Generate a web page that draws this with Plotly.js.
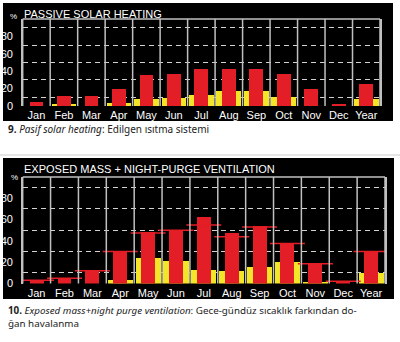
<!DOCTYPE html>
<html><head><meta charset="utf-8">
<script src="https://cdn.plot.ly/plotly-3.0.1.min.js"></script>
<style>html,body{margin:0;padding:0;background:#fff;}#chart{width:400px;height:342px;}</style>
</head><body><div id="chart"></div>
<script>
const months = ['Jan','Feb','Mar','Apr','May','Jun','Jul','Aug','Sep','Oct','Nov','Dec','Year'];
const yTicks = [0,20,40,60,80];
const gridDash = [10,30,50,70,90];
// Chart 9: passive solar heating (%)
const heatRed = [5,12,11,20,36,37,43,43,43,37,20,2,25];
const heatYellow = [0,2,0,4,8,9.5,13,17.5,17.5,10,0,0,7.5];
// Chart 10: exposed mass + night-purge ventilation (%)
const ventRed = [3,5,12,30,48,50,62,47.5,54,37.5,18,1,30];
const ventLine = [3,5,12,30,47.5,50,55,44,53,37.5,18.5,2,30];
const ventYellow = [0,0,0,3,24,21,12.5,11.7,15.7,20,1,0,9.5];

const RED = '#e41e26', YEL = '#f3e52a', GRID = '#c0c0c0', DASH = '#d2d2d2';
const W = 400, H = 342;
const px = v => v / W, py = v => 1 - v / H;
const tickFont = {family: 'Liberation Sans, Arial, sans-serif', size: 11, color: '#fff'};

const data = [
  {type:'bar', x: months, y: heatYellow, xaxis:'x', yaxis:'y', width:0.9, marker:{color:YEL}, hoverinfo:'none'},
  {type:'bar', x: months, y: heatRed, xaxis:'x', yaxis:'y', width:0.5, marker:{color:RED}, hoverinfo:'none'},
  {type:'bar', x: months, y: ventYellow, xaxis:'x2', yaxis:'y2', width:0.9, marker:{color:YEL}, hoverinfo:'none'},
  {type:'bar', x: months, y: ventRed, xaxis:'x2', yaxis:'y2', width:0.5, marker:{color:RED}, hoverinfo:'none'},
  {type:'scatter', mode:'markers', x: months, y: ventLine, xaxis:'x2', yaxis:'y2', hoverinfo:'none',
   marker:{symbol:'line-ew', size:25, color:RED, line:{width:1.5, color:RED}}}
];

function xax(domain, anchor){
  return {domain, anchor, type:'category', range:[-0.5,12.5], showgrid:false,
    ticks:'', tickangle:0, tickfont:tickFont, ticklabelstandoff:1, showline:false, zeroline:false, fixedrange:true};
}
function yax(domain, anchor){
  return {domain, anchor, range:[0,100], tickvals:yTicks, ticktext:yTicks.map(String), showgrid:false,
    minor:{tickvals:gridDash, showgrid:true, gridcolor:DASH, griddash:'5px,4px', gridwidth:1, ticks:''},
    zeroline:false, showline:true, mirror:true, linecolor:GRID, linewidth:1.5, ticks:'',
    tickfont:{...tickFont, size:11}, ticklabelstandoff:6, fixedrange:true};
}

// cell separators between month categories, plus frame of each plot
const separators = [];
['x','x2'].forEach((xa, k) => {
  const ya = k ? 'y2' : 'y';
  months.slice(1).forEach((m, i) => {
    separators.push({type:'line', xref:xa, yref:ya + ' domain', x0:i + 0.5, x1:i + 0.5, y0:0, y1:1,
      line:{color:GRID, width:1.5}, layer:'above'});
  });
  [0, 1].forEach(d => separators.push({type:'line', xref:xa + ' domain', yref:ya + ' domain', x0:d, x1:d, y0:0, y1:1,
      line:{color:GRID, width:1.5}, layer:'above'}));
  separators.push({type:'line', xref:xa + ' domain', yref:ya + ' domain', x0:0, x1:1, y0:1, y1:1,
      line:{color:GRID, width:1.5}, layer:'above'});
});

const layout = {
  width: W, height: H, margin:{l:0,r:0,t:0,b:0}, paper_bgcolor:'#fff', plot_bgcolor:'#000',
  barmode:'overlay', showlegend:false, bargap:0,
  xaxis: xax([px(22.7), px(380)], 'y'),
  yaxis: yax([py(106), py(19)], 'x'),
  xaxis2: xax([px(22.7), px(385)], 'y2'),
  yaxis2: yax([py(283.5), py(177)], 'x2'),
  shapes: [
    {type:'rect', xref:'paper', yref:'paper', x0:px(3), x1:px(393), y0:py(121), y1:py(3), fillcolor:'#000', line:{width:0}, layer:'below'},
    {type:'rect', xref:'paper', yref:'paper', x0:px(3), x1:px(394), y0:py(299), y1:py(158), fillcolor:'#000', line:{width:0}, layer:'below'},
    {type:'line', xref:'paper', yref:'paper', x0:0, x1:1, y0:py(155), y1:py(155), line:{color:'#cccccc', width:1}},
    ...separators
  ],
  annotations: [
    {text:'PASSIVE SOLAR HEATING', xref:'paper', yref:'paper', x:px(22), y:py(14), xanchor:'left', yanchor:'middle', showarrow:false,
     font:{family:'Liberation Sans, Arial, sans-serif', size:11, color:'#fff'}},
    {text:'EXPOSED MASS + NIGHT-PURGE VENTILATION', xref:'paper', yref:'paper', x:px(22), y:py(169), xanchor:'left', yanchor:'middle', showarrow:false,
     font:{family:'Liberation Sans, Arial, sans-serif', size:11, color:'#fff'}},
    {text:'%', xref:'paper', yref:'paper', x:px(13), y:py(16), xanchor:'center', yanchor:'middle', showarrow:false,
     font:{family:'Liberation Sans, Arial, sans-serif', size:8, color:'#fff'}},
    {text:'%', xref:'paper', yref:'paper', x:px(14), y:py(177), xanchor:'center', yanchor:'middle', showarrow:false,
     font:{family:'Liberation Sans, Arial, sans-serif', size:8, color:'#fff'}},
    {text:'<b>9.</b> <i>Pasif solar heating</i>: Edilgen ısıtma sistemi', xref:'paper', yref:'paper', x:px(6), y:py(129), xanchor:'left', yanchor:'middle', showarrow:false,
     font:{family:'Noto Sans, sans-serif', size:10, color:'#222'}},
    {text:'<b>10.</b> <i>Exposed mass+night purge ventilation</i>: Gece-gündüz sıcaklık farkından do-<br>ğan havalanma', xref:'paper', yref:'paper', x:px(6), y:py(302), xanchor:'left', yanchor:'top', align:'left', showarrow:false,
     font:{family:'Noto Sans, sans-serif', size:9.8, color:'#222'}}
  ]
};

Plotly.newPlot('chart', data, layout, {staticPlot:true, displayModeBar:false});
</script></body></html>
